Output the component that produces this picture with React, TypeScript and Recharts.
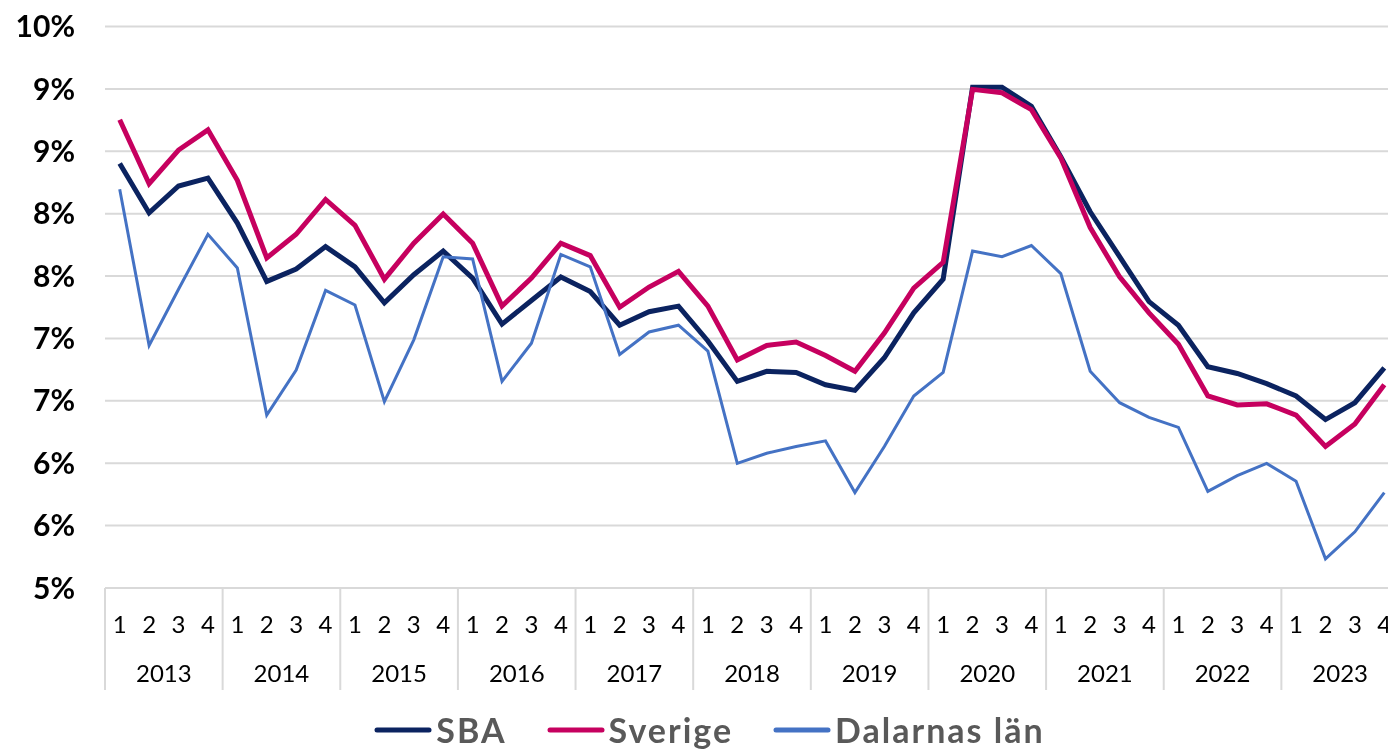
import React from 'react';
import { LineChart, Line, XAxis, YAxis, CartesianGrid, Legend } from 'recharts';

// Kvartal 2013-2023
const years = ['2013', '2014', '2015', '2016', '2017', '2018', '2019', '2020', '2021', '2022', '2023'];
const quarters = ['1', '2', '3', '4'];

const sba = [
  8.78, 8.34, 8.58, 8.65, 8.25, 7.73, 7.84, 8.04, 7.86, 7.54, 7.79, 8.0,
  7.76, 7.35, 7.56, 7.77, 7.64, 7.34, 7.46, 7.51, 7.2, 6.84, 6.93, 6.92,
  6.81, 6.76, 7.05, 7.45, 7.75, 9.46, 9.46, 9.29, 8.84, 8.35, 7.95, 7.55,
  7.34, 6.97, 6.91, 6.82, 6.71, 6.5, 6.65, 6.96,
];
const sverige = [
  9.17, 8.6, 8.9, 9.08, 8.63, 7.94, 8.15, 8.46, 8.23, 7.75, 8.07, 8.33,
  8.07, 7.51, 7.76, 8.07, 7.96, 7.5, 7.68, 7.82, 7.51, 7.03, 7.16, 7.19,
  7.07, 6.93, 7.27, 7.67, 7.9, 9.44, 9.41, 9.26, 8.83, 8.21, 7.77, 7.45,
  7.17, 6.71, 6.63, 6.64, 6.54, 6.26, 6.46, 6.81,
];
const dalarna = [
  8.55, 7.16, 7.66, 8.15, 7.85, 6.54, 6.94, 7.65, 7.52, 6.66, 7.21, 7.95,
  7.93, 6.84, 7.18, 7.97, 7.86, 7.08, 7.28, 7.34, 7.11, 6.11, 6.2, 6.26,
  6.31, 5.85, 6.26, 6.71, 6.92, 8.0, 7.95, 8.05, 7.8, 6.93, 6.65, 6.52,
  6.43, 5.86, 6.0, 6.11, 5.95, 5.26, 5.5, 5.85,
];

const yTicks = [5, 5.556, 6.111, 6.667, 7.222, 7.778, 8.333, 8.889, 9.444, 10];

const series = [
  { key: 'SBA', values: sba, color: '#0B2360', width: 5 },
  { key: 'Sverige', values: sverige, color: '#C6005F', width: 5 },
  { key: 'Dalarnas län', values: dalarna, color: '#4472C4', width: 3 },
];

const data = years.flatMap((year, yi) =>
  quarters.map((q, qi) => {
    const row: Record<string, string | number> = { key: `${year}-${q}` };
    series.forEach(s => {
      row[s.key] = s.values[yi * 4 + qi];
    });
    return row;
  })
);

const CHART_W = 1400;
const CHART_H = 747;
const MARGIN = { top: 18.5, right: 9, left: 0, bottom: 0 };
const Y_AXIS_W = 97;
const PLOT_W = CHART_W - MARGIN.left - MARGIN.right - Y_AXIS_W;
const BAND = PLOT_W / data.length;
const FONT = 'Lato, "Open Sans", sans-serif';
const GRID = '#D9D9D9';

function QuarterTick(props: any) {
  const { x, y, payload, index } = props;
  const [year, q] = String(payload.value).split('-');
  const left = x - BAND / 2;
  const isLast = index === data.length - 1;
  return (
    <g>
      {q === '1' && <line x1={left} x2={left} y1={y} y2={y + 102} stroke={GRID} strokeWidth={2} />}
      {isLast && <line x1={x + BAND / 2} x2={x + BAND / 2} y1={y} y2={y + 102} stroke={GRID} strokeWidth={2} />}
      <text x={x} y={y + 35} textAnchor="middle" dominantBaseline="central" fontSize={24} fill="#000" fontFamily={FONT}>
        {q}
      </text>
      {q === '3' && (
        <text x={left} y={y + 84} textAnchor="middle" dominantBaseline="central" fontSize={24} fill="#000" fontFamily={FONT}>
          {year}
        </text>
      )}
    </g>
  );
}

function LegendContent() {
  return (
    <div
      style={{
        height: 40,
        display: 'flex',
        justifyContent: 'center',
        alignItems: 'flex-start',
        gap: 40,
        paddingLeft: 12,
        transform: 'translateY(-3px)',
      }}
    >
      {series.map(s => (
        <div key={s.key} style={{ display: 'flex', alignItems: 'center', gap: 4, height: 36 }}>
          <svg width={58} height={10}>
            <line x1={3} x2={55} y1={5} y2={5} stroke={s.color} strokeWidth={5} strokeLinecap="round" />
          </svg>
          <span
            style={{
              fontFamily: FONT,
              fontWeight: 700,
              fontSize: 34,
              letterSpacing: 2,
              color: '#595959',
              lineHeight: '36px',
            }}
          >
            {s.key}
          </span>
        </div>
      ))}
    </div>
  );
}

export default function App() {
  return (
    <div style={{ position: 'fixed', left: 8, top: 8, width: 1380, height: 743, overflow: 'hidden' }}>
      <LineChart width={CHART_W} height={CHART_H} data={data} margin={MARGIN}>
        <CartesianGrid vertical={false} stroke={GRID} strokeWidth={2} />
        <XAxis
          dataKey="key"
          scale="band"
          interval={0}
          height={127}
          tickSize={0}
          tickMargin={0}
          tickLine={false}
          axisLine={{ stroke: GRID, strokeWidth: 2 }}
          tick={<QuarterTick />}
        />
        <YAxis
          type="number"
          domain={[5, 10]}
          ticks={yTicks}
          width={Y_AXIS_W}
          tickSize={0}
          tickMargin={30}
          axisLine={false}
          tickLine={false}
          tickFormatter={(v: number) => `${Math.round(v)}%`}
          tick={{ fontSize: 30, fontWeight: 700, fill: '#000', fontFamily: FONT }}
        />
        <Legend verticalAlign="bottom" content={<LegendContent />} />
        {series.map(s => (
          <Line
            key={s.key}
            type="linear"
            dataKey={s.key}
            stroke={s.color}
            strokeWidth={s.width}
            dot={false}
            isAnimationActive={false}
          />
        ))}
      </LineChart>
    </div>
  );
}
